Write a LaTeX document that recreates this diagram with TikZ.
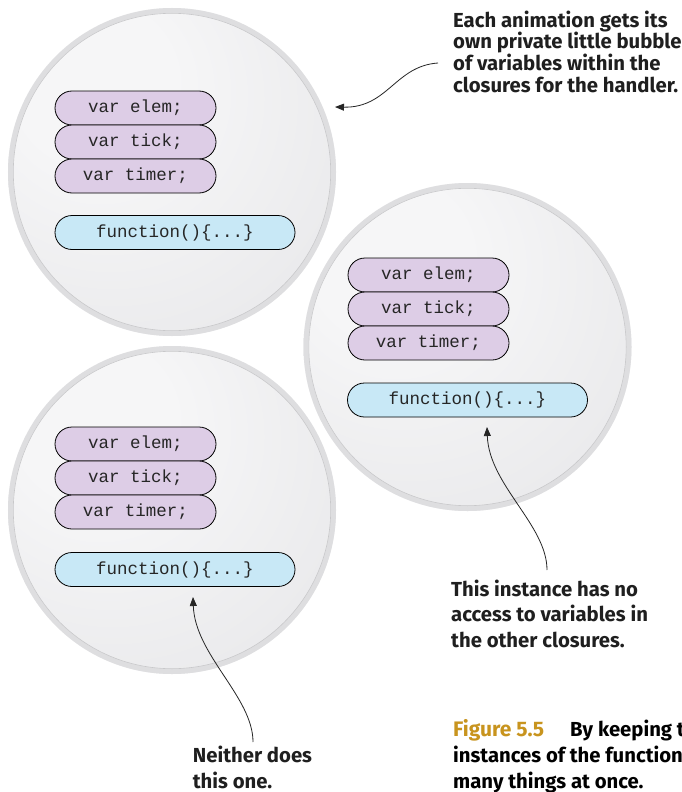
\documentclass[tikz,border=0pt]{standalone}
\usepackage{fontspec}
\setmainfont{Fira Sans}
\newfontfamily\codefont{Liberation Mono}
\usetikzlibrary{shapes.misc,arrows.meta}
\definecolor{varfill}{RGB}{221,205,230}
\definecolor{funfill}{RGB}{200,232,246}
\definecolor{ringcol}{RGB}{222,222,224}
\definecolor{ringline}{RGB}{200,200,202}
\definecolor{goldcap}{RGB}{200,148,30}
\definecolor{hi}{RGB}{246,246,247}
\definecolor{mid}{RGB}{233,233,235}
\definecolor{edge}{RGB}{224,224,226}
\pgfdeclareradialshading{bubble}{\pgfpoint{-14bp}{16bp}}{color(0bp)=(hi); color(12bp)=(hi); color(40bp)=(mid); color(62bp)=(edge); color(80bp)=(edge)}
\tikzset{
  pillbase/.style={rounded rectangle, draw=black, line width=0.8pt, inner sep=0pt,
    minimum height=34pt, text=black!85, font=\codefont\fontsize{17.5}{20}\selectfont},
  varpill/.style={pillbase, fill=varfill, minimum width=161pt},
  funpill/.style={pillbase, fill=funfill, minimum width=240pt},
  note/.style={anchor=base west, inner sep=0pt, align=left, text=black!88,
    font=\bfseries\fontsize{20.3}{21.7}\selectfont},
  notewide/.style={note, font=\bfseries\fontsize{20.3}{25.6}\selectfont},
  callout/.style={draw=black!85, line width=0.8pt, -{Triangle[length=9pt,width=7pt]}},
}
\newcommand{\bubble}[1]{%
  \shade[shading=bubble] (#1) circle (164pt);
  \draw[ringcol, line width=5pt] (#1) circle (161.5pt);
  \draw[ringline, line width=0.6pt] (#1) circle (158.7pt);
}
\begin{document}
\begin{tikzpicture}[x=1pt,y=-1pt]
\useasboundingbox (0,0) rectangle (682,792);
\clip (0,0) rectangle (682,792);
\fill[white] (0,0) rectangle (682,792);
\coordinate (c1) at (172,172);
\coordinate (c2) at (467.5,347);
\coordinate (c3) at (172,510);
\bubble{c1}
\bubble{c2}
\bubble{c3}
% bubble 1
\node[varpill] (e1) at (135.5,108) {var elem;};
\node[varpill] (k1) at (135.5,142) {var tick;};
\node[varpill] (t1) at (135.5,176) {var timer;};
\node[funpill] (f1) at (175,232.5) {function()\{...\}};
% bubble 2
\node[varpill] (e2) at (428.5,275) {var elem;};
\node[varpill] (k2) at (428.5,309) {var tick;};
\node[varpill] (t2) at (428.5,343) {var timer;};
\node[funpill] (f2) at (467.5,400) {function()\{...\}};
% bubble 3
\node[varpill] (e3) at (135.5,444) {var elem;};
\node[varpill] (k3) at (135.5,478) {var tick;};
\node[varpill] (t3) at (135.5,512) {var timer;};
\node[funpill] (f3) at (175,569.5) {function()\{...\}};
% annotations (base anchor = last line)
\node[note] (n1) at (453,92.3) {Each animation gets its\\own private little bubble\\of variables within the\\closures for the handler.};
\node[notewide] (n2) at (451,647.3) {This instance has no\\access to variables in\\the other closures.};
\node[notewide] (n3) at (192.7,788) {Neither does\\this one.};
% caption
\node[anchor=base west, inner sep=0pt, text=goldcap, font=\bfseries\fontsize{21}{25.6}\selectfont] (cap) at (453,736) {Figure 5.5};
\node[notewide, text=black] (cap2) at (570,736) {By keeping the};
\node[notewide, text=black] (cap3) at (453,788) {instances of the function\\many things at once.};
% connectors
\coordinate (s1) at (438,63);
\coordinate (p1) at (335,107);
\coordinate (s2) at (547,570);
\coordinate (p2) at (487,427);
\coordinate (s3) at (253,742);
\coordinate (p3) at (193,597);
\draw[callout] (s1) .. controls (395,66) and (388,108) .. (p1);
\draw[callout] (s2) .. controls (547,525) and (489,485) .. (p2);
\draw[callout] (s3) .. controls (253,697) and (195,655) .. (p3);
\end{tikzpicture}
\end{document}
